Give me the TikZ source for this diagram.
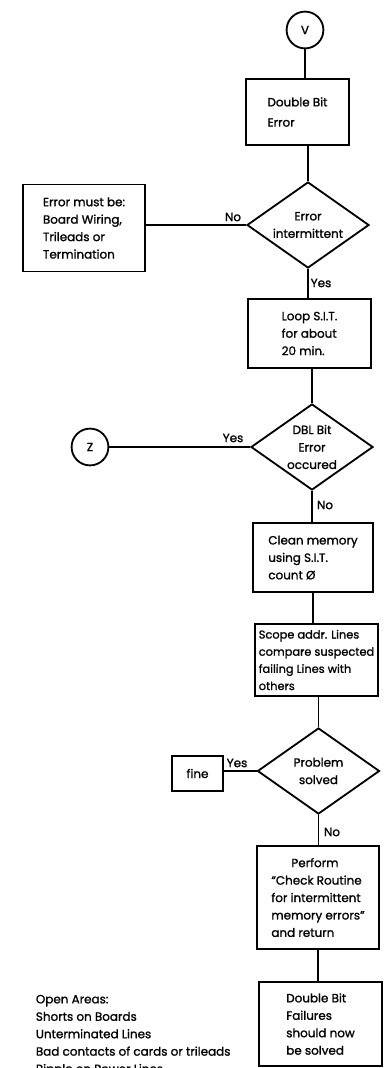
\documentclass[tikz,border=0pt]{standalone}
\usepackage{fontspec}
\setmainfont{Poppins}[FakeBold=1.2]
\usetikzlibrary{shapes.geometric}
\begin{document}
\begin{tikzpicture}[x=0.025cm, y=-0.025cm, font=\fontsize{8.5}{12.4}\selectfont, line width=1.3pt,
          box/.style={shape=rectangle, draw, align=left, inner sep=0pt},
          decision/.style={shape=diamond, draw, align=center, inner sep=0pt, aspect=1.42, minimum width=3.05cm, minimum height=2.15cm},
          connector/.style={shape=circle, draw, inner sep=0pt, minimum size=0.92cm},
          tag/.style={inner sep=1pt}]
          \useasboundingbox (0,0) rectangle (385,1068);
          \node[connector] (v) at (305,30) {V};
          \node[box, minimum width=2.575cm, minimum height=1.65cm] (dbe) at (297.5,112) {Double Bit\\[2pt]Error};
          \node[decision] (interm) at (308,225) {Error\\intermittent};
          \node[box, minimum width=3.05cm, minimum height=2.175cm] (must) at (84,228) {Error must be:\\Board Wiring,\\Trileads or\\Termination};
          \node[box, minimum width=3.075cm, minimum height=1.725cm] (loop) at (309.5,333.5) {Loop S.I.T.\\for about\\20 min.};
          \node[decision] (dbl) at (312,447) {DBL Bit\\Error\\occured};
          \node[connector] (z) at (90,447) {Z};
          \node[box, minimum width=3cm, minimum height=1.725cm] (clean) at (313,557.5) {Clean memory\\using S.I.T.\\count \O};
          \node[box, minimum width=3.075cm, minimum height=1.8cm, font=\fontsize{8.1}{12.2}\selectfont] (scope) at (316.5,660) {Scope addr. Lines\\compare suspected\\failing Lines with\\others};
          \node[decision] (solved) at (318.5,771) {Problem\\solved};
          \node[box, minimum width=1.275cm, minimum height=0.875cm, align=center] (fine) at (197.5,773.5) {fine};
          \node[box, minimum width=3.05cm, minimum height=2.575cm] (perform) at (318,897.5) {\hspace{0.5cm}Perform\\``Check Routine\\for intermittent\\memory errors''\\and return};
          \node[box, minimum width=3.075cm, minimum height=2.1cm] (final) at (320.5,1024) {Double Bit\\Failures\\should now\\be solved};
          \node[anchor=north west, align=left, inner sep=0pt] (areas) at (35,994) {Open Areas:\\Shorts on Boards\\Unterminated Lines\\Bad contacts of cards or trileads\\Ripple on Power Lines};
          \node[tag] (no1) at (233,217) {No};
          \node[tag] (yes1) at (321,283) {Yes};
          \node[tag] (yes2) at (233,438) {Yes};
          \node[tag] (no2) at (325,505) {No};
          \node[tag] (yes3) at (237,763) {Yes};
          \node[tag] (no3) at (332,832) {No};
          \draw (v) -- (v |- dbe.north);
          \draw (interm.north |- dbe.south) -- (interm.north);
          \draw (must.east |- interm.west) -- (interm.west);
          \draw (interm.south) -- (interm.south |- loop.north);
          \draw (dbl.north |- loop.south) -- (dbl.north);
          \draw (z) -- (dbl.west);
          \draw (dbl.south) -- (dbl.south |- clean.north);
          \draw (clean.south) -- (clean.south |- scope.north);
          \draw (solved.north |- scope.south) -- (solved.north);
          \draw (fine.east |- solved.west) -- (solved.west);
          \draw (solved.south) -- (solved.south |- perform.north);
          \draw (perform.south) -- (perform.south |- final.north);
\end{tikzpicture}
\end{document}
